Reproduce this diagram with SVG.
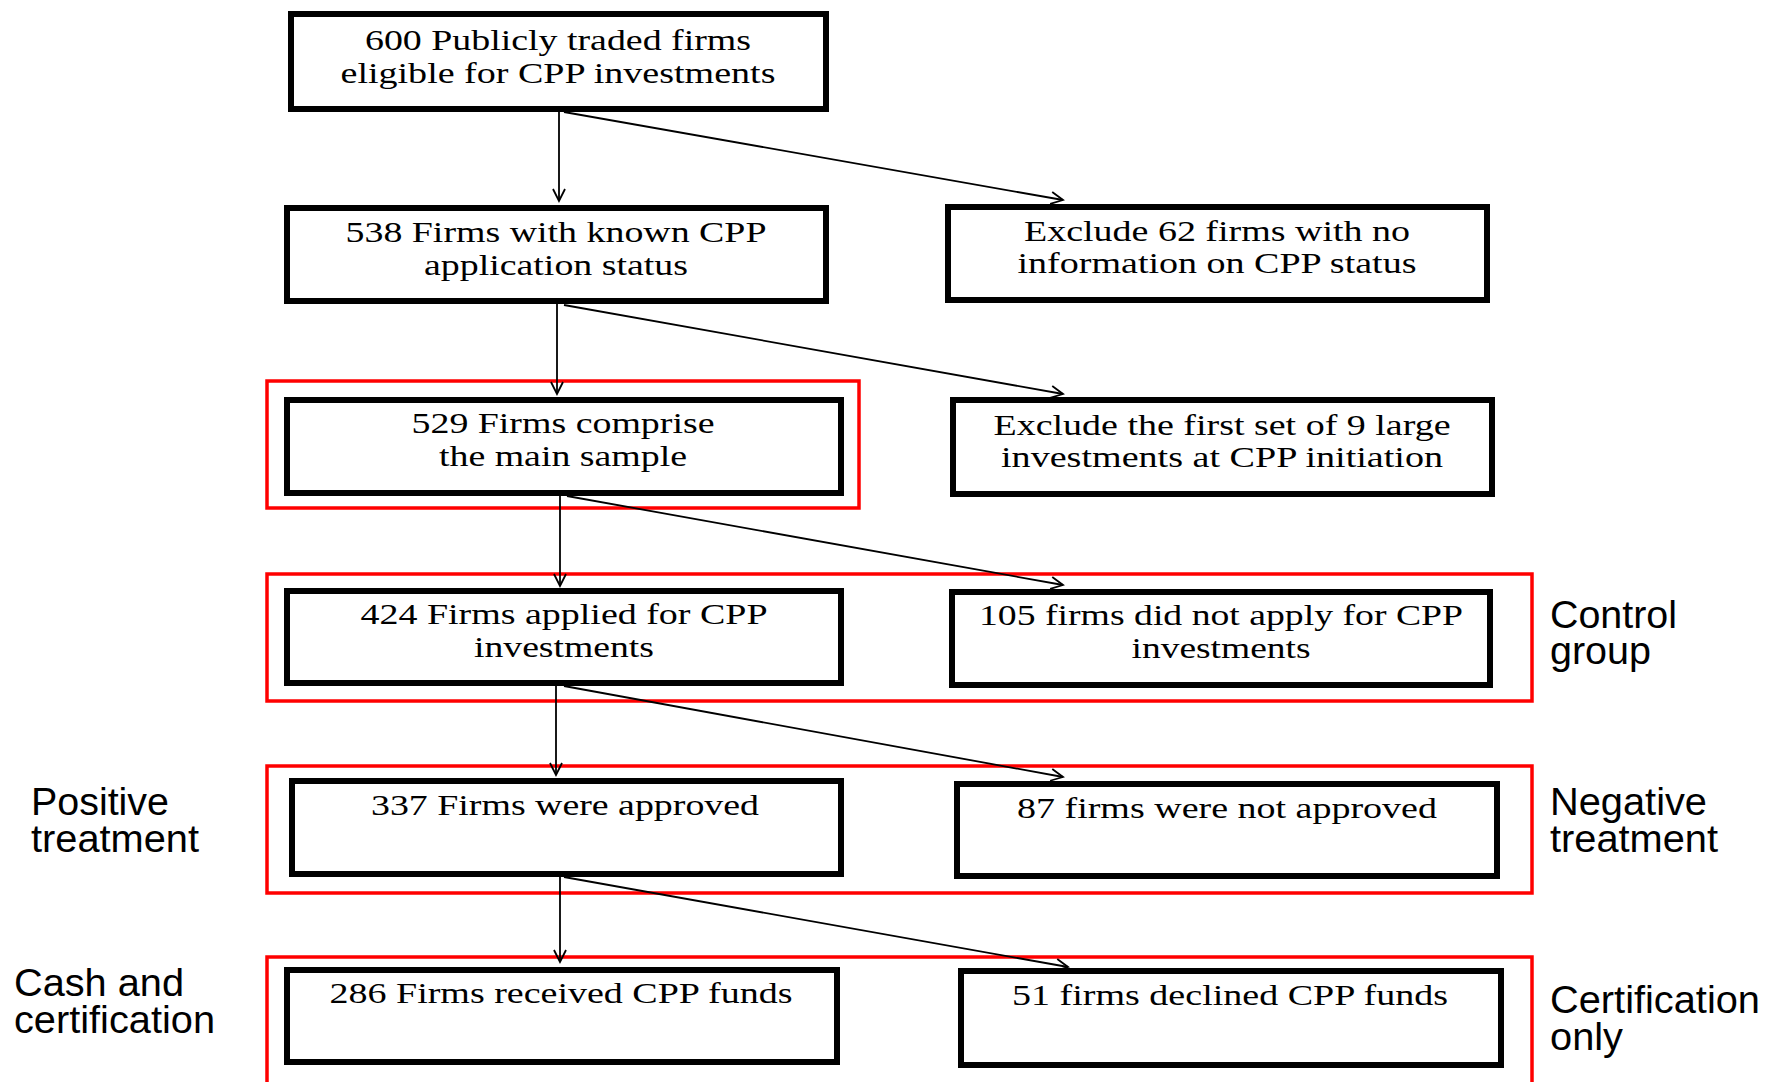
<svg xmlns="http://www.w3.org/2000/svg" width="1779" height="1082" viewBox="0 0 1779 1082">
<style>
.box{fill:#fff;stroke:#000;stroke-width:6}
.red{fill:none;stroke:#ff0000;stroke-width:3.5}
.t{font-family:"Liberation Serif","Times New Roman",serif;font-size:30px;fill:#000}
.lab{font-family:"Liberation Sans",Arial,sans-serif;font-size:38px;fill:#000}
.con{stroke:#000;stroke-width:1.8;fill:none}
</style>
<defs>
<marker id="ah" markerUnits="userSpaceOnUse" markerWidth="16" markerHeight="16" refX="13" refY="7" orient="auto">
<path d="M1,1 L13,7 L1,13" fill="none" stroke="#000" stroke-width="1.8"/>
</marker>
</defs>
<rect width="1779" height="1082" fill="#fff"/>
<g id="groups">
<rect class="red" x="267" y="381" width="592" height="127"/>
<rect class="red" x="267" y="574" width="1265" height="127"/>
<rect class="red" x="267" y="766" width="1265" height="127"/>
<rect class="red" x="267" y="957" width="1265" height="200"/>
</g>
<g id="connectors">
<line class="con" x1="559" y1="112" x2="559" y2="201" marker-end="url(#ah)"/>
<line class="con" x1="564" y1="112" x2="1063" y2="200" marker-end="url(#ah)"/>
<line class="con" x1="557" y1="304" x2="557" y2="394" marker-end="url(#ah)"/>
<line class="con" x1="564" y1="305" x2="1063" y2="394" marker-end="url(#ah)"/>
<line class="con" x1="560" y1="496" x2="560" y2="586" marker-end="url(#ah)"/>
<line class="con" x1="567" y1="496" x2="1063" y2="585" marker-end="url(#ah)"/>
<line class="con" x1="556" y1="686" x2="556" y2="775" marker-end="url(#ah)"/>
<line class="con" x1="564" y1="686" x2="1063" y2="777" marker-end="url(#ah)"/>
<line class="con" x1="560" y1="877" x2="560" y2="962" marker-end="url(#ah)"/>
<line class="con" x1="564" y1="877" x2="1068" y2="967" marker-end="url(#ah)"/>
</g>
<g id="n600">
<rect class="box" x="291" y="14" width="535" height="95"/>
<text class="t" x="558" y="50" text-anchor="middle" textLength="386" lengthAdjust="spacingAndGlyphs">600 Publicly traded firms</text>
<text class="t" x="558" y="83" text-anchor="middle" textLength="435" lengthAdjust="spacingAndGlyphs">eligible for CPP investments</text>
</g>
<g id="n538">
<rect class="box" x="287" y="208" width="539" height="93"/>
<text class="t" x="556" y="242" text-anchor="middle" textLength="421" lengthAdjust="spacingAndGlyphs">538 Firms with known CPP</text>
<text class="t" x="556" y="275" text-anchor="middle" textLength="264" lengthAdjust="spacingAndGlyphs">application status</text>
</g>
<g id="nex62">
<rect class="box" x="948" y="207" width="539" height="93"/>
<text class="t" x="1217" y="241" text-anchor="middle" textLength="386" lengthAdjust="spacingAndGlyphs">Exclude 62 firms with no</text>
<text class="t" x="1217" y="273" text-anchor="middle" textLength="399" lengthAdjust="spacingAndGlyphs">information on CPP status</text>
</g>
<g id="n529">
<rect class="box" x="287" y="400" width="554" height="93"/>
<text class="t" x="563" y="433" text-anchor="middle" textLength="303" lengthAdjust="spacingAndGlyphs">529 Firms comprise</text>
<text class="t" x="563" y="466" text-anchor="middle" textLength="248" lengthAdjust="spacingAndGlyphs">the main sample</text>
</g>
<g id="nex9">
<rect class="box" x="953" y="400" width="539" height="94"/>
<text class="t" x="1222" y="435" text-anchor="middle" textLength="457" lengthAdjust="spacingAndGlyphs">Exclude the first set of 9 large</text>
<text class="t" x="1222" y="467" text-anchor="middle" textLength="442" lengthAdjust="spacingAndGlyphs">investments at CPP initiation</text>
</g>
<g id="n424">
<rect class="box" x="287" y="591" width="554" height="92"/>
<text class="t" x="564" y="624" text-anchor="middle" textLength="407" lengthAdjust="spacingAndGlyphs">424 Firms applied for CPP</text>
<text class="t" x="564" y="657" text-anchor="middle" textLength="180" lengthAdjust="spacingAndGlyphs">investments</text>
</g>
<g id="n105">
<rect class="box" x="952" y="592" width="538" height="93"/>
<text class="t" x="1221" y="625" text-anchor="middle" textLength="484" lengthAdjust="spacingAndGlyphs">105 firms did not apply for CPP</text>
<text class="t" x="1221" y="658" text-anchor="middle" textLength="179" lengthAdjust="spacingAndGlyphs">investments</text>
</g>
<g id="n337">
<rect class="box" x="292" y="781" width="549" height="93"/>
<text class="t" x="565" y="815" text-anchor="middle" textLength="388" lengthAdjust="spacingAndGlyphs">337 Firms were approved</text>
</g>
<g id="n87">
<rect class="box" x="957" y="784" width="540" height="92"/>
<text class="t" x="1227" y="818" text-anchor="middle" textLength="420" lengthAdjust="spacingAndGlyphs">87 firms were not approved</text>
</g>
<g id="n286">
<rect class="box" x="287" y="970" width="550" height="92"/>
<text class="t" x="561" y="1003" text-anchor="middle" textLength="463" lengthAdjust="spacingAndGlyphs">286 Firms received CPP funds</text>
</g>
<g id="n51">
<rect class="box" x="961" y="971" width="540" height="94"/>
<text class="t" x="1230" y="1005" text-anchor="middle" textLength="436" lengthAdjust="spacingAndGlyphs">51 firms declined CPP funds</text>
</g>
<g id="labels">
<text class="lab" x="1550" y="628" textLength="127" lengthAdjust="spacingAndGlyphs">Control</text>
<text class="lab" x="1550" y="664" textLength="101" lengthAdjust="spacingAndGlyphs">group</text>
<text class="lab" x="1550" y="815" textLength="157" lengthAdjust="spacingAndGlyphs">Negative</text>
<text class="lab" x="1550" y="852" textLength="168" lengthAdjust="spacingAndGlyphs">treatment</text>
<text class="lab" x="31" y="815" textLength="138" lengthAdjust="spacingAndGlyphs">Positive</text>
<text class="lab" x="31" y="852" textLength="168" lengthAdjust="spacingAndGlyphs">treatment</text>
<text class="lab" x="14" y="996" textLength="170" lengthAdjust="spacingAndGlyphs">Cash and</text>
<text class="lab" x="14" y="1033" textLength="201" lengthAdjust="spacingAndGlyphs">certification</text>
<text class="lab" x="1550" y="1013" textLength="210" lengthAdjust="spacingAndGlyphs">Certification</text>
<text class="lab" x="1550" y="1050" textLength="73" lengthAdjust="spacingAndGlyphs">only</text>
</g>
</svg>
